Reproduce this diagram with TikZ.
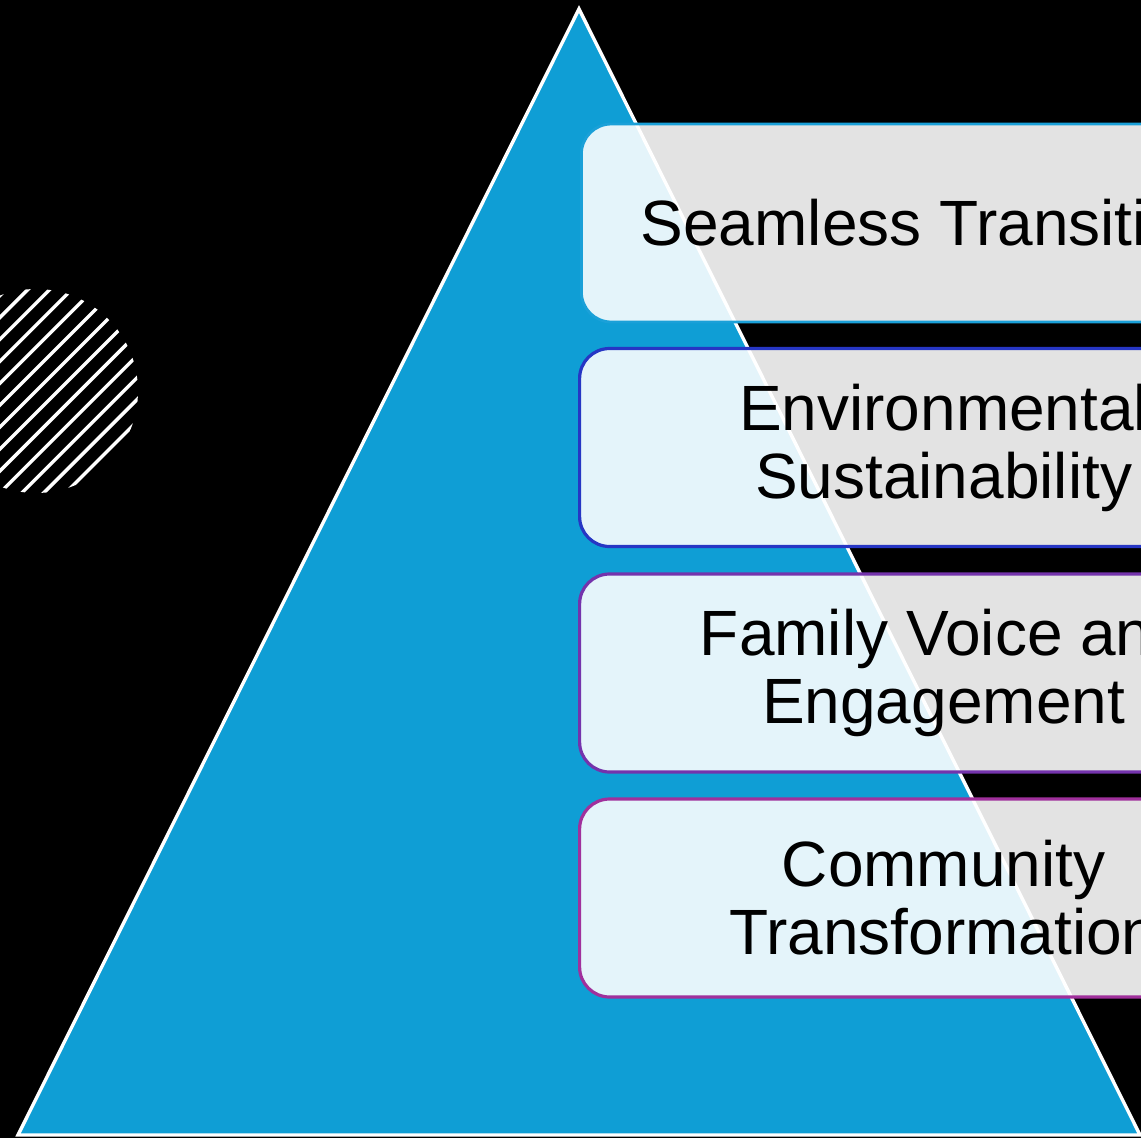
\documentclass[tikz,border=0pt]{standalone}
\usepackage{fontspec}
\setmainfont{Liberation Sans}
\usetikzlibrary{calc}
\definecolor{triblue}{HTML}{0F9ED5}
\definecolor{bA}{HTML}{1AA0D8}
\definecolor{bB}{HTML}{2636C4}
\definecolor{bC}{HTML}{7433AC}
\definecolor{bD}{HTML}{A0309C}
\tikzset{
  layer/.style={draw, line width=3.2pt, rounded corners=30pt, fill=white, fill opacity=0.89, draw opacity=1, text opacity=1,
    minimum width=728pt, minimum height=198pt, inner sep=0pt, align=center,
    font=\fontsize{64pt}{68pt}\selectfont, text=black, anchor=west},
  hatchline/.style={draw=white, line width=3.4pt}
}
\begin{document}
\begin{tikzpicture}[x=1pt,y=-1pt]
\useasboundingbox (0,0) rectangle (1141,1138);
\fill[black] (0,0) rectangle (1141,1138);
\clip (0,0) rectangle (1141,1138);
% hatched circle
\begin{scope}
\clip (36,391) circle (102);
\foreach \k in {-10,...,10} {
  \draw[hatchline] ($(36,391)+(\k*15.5*0.7071,\k*15.5*0.7071)+(-150,150)$) -- ++(300,-300);
}
\end{scope}
% pyramid
\draw[fill=triblue, draw=white, line width=3.4pt, line join=miter] (579,9) coordinate (apex) -- (1140,1135) coordinate (br) -- (18,1135) coordinate (bl) -- cycle;
% layers
\node[layer, draw=bA, line width=2.8pt] (l1) at (580,223) {Seamless Transitions};
\node[layer, draw=bB] (l2) at (578,447.5) {Environmental\\Sustainability};
\node[layer, draw=bC] (l3) at (578,673) {Family Voice and\\Engagement};
\node[layer, draw=bD] (l4) at (578,898) {Community\\Transformation};
\end{tikzpicture}
\end{document}
